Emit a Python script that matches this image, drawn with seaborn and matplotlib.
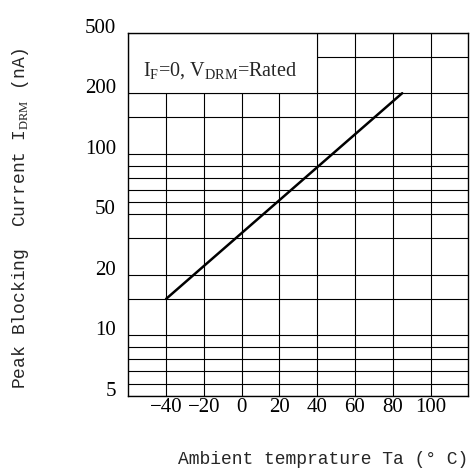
import numpy as np
import pandas as pd
import matplotlib
matplotlib.use("Agg")
import matplotlib.pyplot as plt
from matplotlib.patches import Rectangle
import seaborn as sns

# ===== DATA =====
temp = [-40, 85]          # Ta (°C)
current = [16, 200]       # I_DRM (nA)

x_ticks = [-40, -20, 0, 20, 40, 60, 80, 100]
y_major = [5, 10, 20, 50, 100, 200, 500]
y_minor = [6, 7, 8, 9, 16, 38, 60, 70, 80, 90, 160, 380]
note = r"I$_{\rm F}$=0, V$_{\rm DRM}$=Rated"

# ===== STYLE =====
sns.set_theme(style="white")
plt.rcParams.update({
    "font.family": ["Liberation Serif", "DejaVu Serif"],
    "mathtext.fontset": "custom",
    "mathtext.rm": "Liberation Serif",
    "axes.edgecolor": "black",
    "axes.linewidth": 1.0,
})

# chart uses equal spacing between 5-10-20-50-100-200-500, linear inside each step
knots_v = [0] + y_major + [1000]
knots_u = list(range(-1, len(y_major) + 1))


def fwd(v):
    return np.interp(v, knots_v, knots_u)


def inv(u):
    return np.interp(u, knots_u, knots_v)


fig = plt.figure(figsize=(4.76, 4.74), dpi=100)
ax = fig.add_axes([0.2696, 0.1652, 0.7142, 0.7658])

df = pd.DataFrame({"temp": temp, "current": current})
sns.lineplot(data=df, x="temp", y="current", color="black", linewidth=1.8, ax=ax, zorder=3)

ax.set_yscale("function", functions=(fwd, inv))
ax.set_xlim(-60, 120)
ax.set_ylim(5, 500)

ax.set_xticks(x_ticks)
ax.set_xticklabels([str(t).replace("-", "\u2212") for t in x_ticks])
ax.set_yticks(y_major)
ax.set_yticklabels([str(t) for t in y_major])
ax.set_yticks(y_minor, minor=True)
ax.tick_params(axis="both", which="both", length=0, labelsize=15, colors="black")
ax.tick_params(axis="y", pad=9)
ax.tick_params(axis="x", pad=2)
for lab in ax.get_yticklabels():
    lab.set_verticalalignment("baseline")

ax.grid(True, which="both", color="black", linewidth=0.8)
ax.set_axisbelow(True)

# white note box in the upper left
box = Rectangle((-60, 200), 100, 300, facecolor="white", edgecolor="black",
                linewidth=0.8, zorder=1)
ax.add_patch(box)
ax.text(-52, 290, note, fontsize=14.5, va="baseline", ha="left", zorder=4)

ax.set_xlabel("Ambient temprature Ta (° C)", family=["Liberation Mono", "DejaVu Sans Mono"],
              fontsize=13, ha="right", va="center")
ax.xaxis.set_label_coords(1.0, -0.177)
ax.set_ylabel(r"Peak Blocking  Current I$_{\rm DRM}$ (nA)",
              family=["Liberation Mono", "DejaVu Sans Mono"],
              fontsize=13, ha="center", va="center")
ax.yaxis.set_label_coords(-0.3185, 0.49)

for s in ax.spines.values():
    s.set_color("black")
    s.set_linewidth(1.0)

fig.savefig("out.png", dpi=100)
